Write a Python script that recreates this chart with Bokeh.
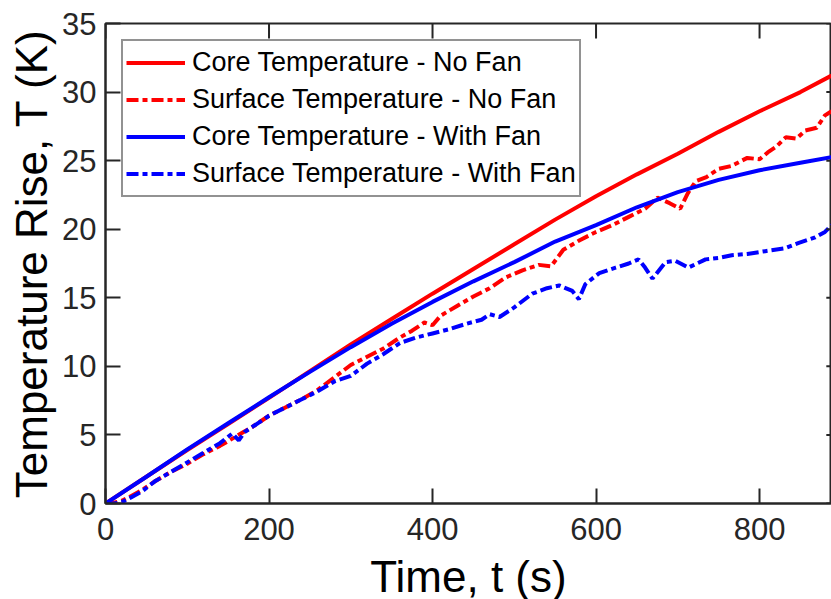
from bokeh.plotting import figure
from bokeh.models import FixedTicker, Range1d, Title
from bokeh.embed import file_html
from bokeh.resources import INLINE

# ---- data ----
x_ticks = [0, 200, 400, 600, 800]
y_ticks = [0, 5, 10, 15, 20, 25, 30, 35]
x_view_end = 888      # visible part of the time axis
x_axis_end = 900      # full axis limit (right frame lies just outside the picture)

t_core = [0, 50, 100, 150, 200, 250, 300, 350, 400, 450, 500, 550, 600, 650, 700, 750, 800, 850, 888]
core_nofan = [0, 1.95, 3.9, 5.8, 7.7, 9.65, 11.6, 13.45, 15.3, 17.1, 18.9, 20.7, 22.4, 24.0, 25.5, 27.1, 28.6, 30.0, 31.2]
core_fan = [0, 1.95, 3.95, 5.85, 7.75, 9.6, 11.4, 13.1, 14.7, 16.2, 17.6, 19.1, 20.3, 21.6, 22.7, 23.6, 24.3, 24.85, 25.25]

t_surf_nofan = [0, 10, 20, 30, 45, 60, 80, 100, 120, 140, 160, 180, 200, 220, 240, 260, 280, 300,
                320, 340, 360, 375, 390, 400, 410, 430, 450, 470, 490, 510, 530, 545, 560, 580,
                600, 620, 640, 660, 675, 690, 703, 712, 722, 735, 750, 765, 785, 800, 810, 820,
                832, 845, 856, 870, 880, 888]
surf_nofan = [0, 0.05, 0.2, 0.5, 1.0, 1.6, 2.3, 2.9, 3.6, 4.2, 4.9, 5.6, 6.4, 7.0, 7.6, 8.3, 9.2, 10.1,
              10.7, 11.3, 12.1, 12.6, 13.2, 13.0, 13.7, 14.4, 15.1, 15.7, 16.5, 17.0, 17.4, 17.3, 18.5, 19.2,
              19.8, 20.3, 20.9, 21.5, 22.3, 21.9, 21.5, 22.6, 23.5, 23.8, 24.4, 24.6, 25.2, 25.1, 25.6, 26.0,
              26.7, 26.6, 27.2, 27.4, 28.3, 28.6]

t_surf_fan = [0, 10, 20, 30, 45, 60, 80, 100, 120, 140, 155, 163, 170, 180, 200, 220, 240, 260, 280, 300,
              320, 340, 360, 380, 400, 420, 441, 460, 470, 482, 500, 522, 540, 555, 571, 579, 587, 604,
              624, 640, 652, 660, 669, 685, 697, 713, 734, 750, 766, 785, 807, 830, 848, 868, 880, 888]
surf_fan = [0, 0.0, 0.1, 0.4, 0.9, 1.6, 2.3, 3.0, 3.7, 4.4, 5.1, 4.6, 5.2, 5.6, 6.4, 7.0, 7.6, 8.2, 8.9, 9.3,
            10.2, 10.9, 11.7, 12.1, 12.4, 12.7, 13.1, 13.4, 13.8, 13.6, 14.3, 15.3, 15.7, 15.9, 15.5, 14.9, 16.0, 16.8,
            17.2, 17.5, 17.8, 17.2, 16.4, 17.6, 17.7, 17.2, 17.8, 17.9, 18.1, 18.2, 18.4, 18.6, 19.0, 19.4, 19.8, 20.3]

labels = ["Core Temperature - No Fan", "Surface Temperature - No Fan",
          "Core Temperature - With Fan", "Surface Temperature - With Fan"]
x_title = "Time, t (s)"
y_title = "Temperature Rise, T (K)"

FONT = "Liberation Sans"
AX = "#262626"
FRAME_W, FRAME_H = 726, 480
TICK_PX = 15

p = figure(width=831, height=599, x_range=Range1d(0, x_view_end), y_range=Range1d(y_ticks[0], y_ticks[-1]),
           output_backend="svg", toolbar_location=None,
           min_border_left=105, min_border_right=0, min_border_top=23, min_border_bottom=96)

p.xgrid.visible = False
p.ygrid.visible = False
p.outline_line_color = AX
p.outline_line_width = 2
p.background_fill_color = "white"
p.border_fill_color = "white"

LW = 4
DASH = "12 4 5 4"
p.line(t_core, core_nofan, line_color="#ff0000", line_width=LW, legend_label=labels[0])
p.line(t_surf_nofan, surf_nofan, line_color="#ff0000", line_width=LW, line_dash=DASH, legend_label=labels[1])
p.line(t_core, core_fan, line_color="#0000ff", line_width=LW, legend_label=labels[2])
p.line(t_surf_fan, surf_fan, line_color="#0000ff", line_width=LW, line_dash=DASH, legend_label=labels[3])

# inward ticks on the top edge and the (off-picture) right edge of the box
y_top = y_ticks[-1]
dy = TICK_PX * (y_ticks[-1] - y_ticks[0]) / FRAME_H
dx = TICK_PX * x_view_end / FRAME_W
p.segment(x0=x_ticks, y0=[y_top] * len(x_ticks), x1=x_ticks, y1=[y_top - dy] * len(x_ticks),
          line_color=AX, line_width=2)
p.segment(x0=[x_axis_end] * len(y_ticks), y0=y_ticks, x1=[x_axis_end - dx] * len(y_ticks), y1=y_ticks,
          line_color=AX, line_width=2)

for ax, ticks in ((p.xaxis[0], x_ticks), (p.yaxis[0], y_ticks)):
    ax.ticker = FixedTicker(ticks=ticks)
    ax.major_tick_in = TICK_PX
    ax.major_tick_out = 0
    ax.minor_tick_line_color = None
    ax.axis_line_color = AX
    ax.axis_line_width = 2
    ax.major_tick_line_color = AX
    ax.major_tick_line_width = 2
    ax.major_label_text_font = FONT
    ax.major_label_text_font_size = "31px"
    ax.major_label_text_color = AX
    ax.axis_label_text_font = FONT
    ax.axis_label_text_font_size = "44px"
    ax.axis_label_text_font_style = "normal"
    ax.axis_label_text_color = "black"

p.xaxis.major_label_standoff = 14
p.yaxis.axis_label = y_title
p.yaxis.major_label_standoff = 9
p.yaxis.axis_label_standoff = 3

# x title below the tick labels; it may run past the bottom edge as in the reference
p.add_layout(Title(text=x_title, align="center", vertical_align="top", offset=5, standoff=-20,
                   padding=dict(left=0, right=0, top=19, bottom=0),
                   text_font=FONT, text_font_size="44px", text_font_style="normal",
                   text_color="black"), "below")

lg = p.legend[0]
lg.location = "top_left"
lg.margin = 16
lg.padding = 3
lg.spacing = 0
lg.label_height = 37
lg.glyph_height = 37
lg.glyph_width = 59
lg.label_standoff = 7
lg.label_text_font = FONT
lg.label_text_font_size = "27px"
lg.label_text_color = "black"
lg.border_line_color = AX
lg.border_line_width = 2
lg.background_fill_alpha = 1.0

open("out.html", "w").write(file_html(p, INLINE))
